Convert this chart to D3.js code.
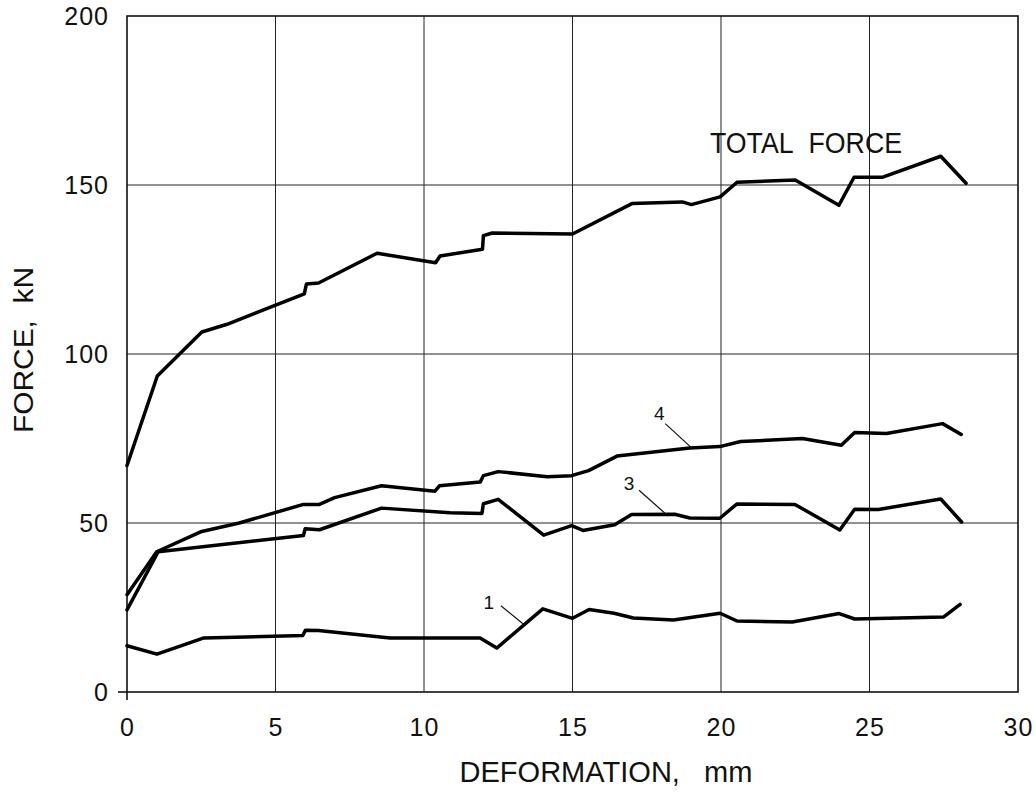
<!DOCTYPE html>
<html>
<head>
<meta charset="utf-8">
<script src="https://cdn.jsdelivr.net/npm/d3@7"></script>
<style>
  html, body { margin: 0; padding: 0; background: #fff; }
  svg { display: block; }
  text { font-family: "Liberation Sans", "DejaVu Sans", sans-serif; fill: #111; }
</style>
</head>
<body>
<svg id="chart" width="1035" height="794"></svg>
<script>
// Axis ticks
const xTicks = [0, 5, 10, 15, 20, 25, 30];
const yTicks = [0, 50, 100, 150, 200];

// Total force (kN) vs deformation (mm)
const totalX = [0, 1.02, 2.52, 3.37, 5.97, 6.04, 6.45, 8.42, 10.39, 10.54, 11.97, 12.0, 12.3, 15.0, 17.0, 18.7, 19.0, 19.97, 20.54, 22.5, 23.97, 24.48, 25.45, 27.4, 28.25];
const totalF = [67, 93.5, 106.5, 108.8, 117.8, 120.7, 121, 129.8, 127, 129, 131, 135, 135.8, 135.5, 144.5, 145, 144.2, 146.5, 150.8, 151.5, 144, 152.3, 152.3, 158.5, 150.5];

// Component 4
const c4X = [0, 1.0, 2.48, 3.78, 5.94, 6.48, 6.99, 8.57, 10.37, 10.52, 11.89, 12.0, 12.5, 14.15, 14.97, 15.54, 16.5, 18.95, 19.96, 20.66, 22.74, 24.05, 24.5, 25.57, 27.46, 28.09];
const c4F = [28.8, 41.5, 47.4, 50, 55.5, 55.5, 57.5, 61, 59.4, 61, 62.1, 64, 65.2, 63.7, 64, 65.5, 69.8, 72.2, 72.6, 74.1, 75, 73, 76.8, 76.5, 79.4, 76.2];

// Component 3
const c3X = [0, 1.05, 5.94, 6.0, 6.48, 8.57, 10.88, 11.95, 12.0, 12.5, 14.03, 14.97, 15.35, 16.42, 16.99, 18.44, 18.95, 19.96, 20.53, 22.49, 24.0, 24.5, 25.3, 27.4, 28.1];
const c3F = [24.3, 41.5, 46.3, 48.3, 48, 54.4, 53, 52.8, 55.7, 57, 46.4, 49.2, 47.8, 49.5, 52.5, 52.6, 51.5, 51.4, 55.6, 55.5, 47.9, 54.1, 54, 57.1, 50.3];

// Component 1
const c1X = [0, 1.01, 2.59, 5.92, 6.01, 6.45, 8.85, 10.88, 11.89, 12.45, 14.0, 15.0, 15.56, 16.4, 17.05, 18.4, 19.97, 20.54, 22.4, 23.98, 24.5, 27.5, 28.05];
const c1F = [13.7, 11.2, 16, 16.7, 18.3, 18.2, 16, 16, 16, 13, 24.6, 21.8, 24.4, 23.3, 21.9, 21.3, 23.3, 21, 20.7, 23.2, 21.6, 22.2, 25.9];

// Curve labels: text, point on the curve (data units), label centre offset and leader start offset (px)
const curveLabels = [
  { text: "4", x: 19.0, y: 72.3, dx: -32, dy: -34, lx: -26, ly: -24 },
  { text: "3", x: 18.15, y: 52.6, dx: -37, dy: -31, lx: -27, ly: -24 },
  { text: "1", x: 13.33, y: 20.2, dx: -34, dy: -21, lx: -22, ly: -18 }
];

const svg = d3.select("#chart");
const mLeft = 127, mRight = 1018, mTop = 16, mBottom = 692;

const x = d3.scaleLinear().domain([0, 30]).range([mLeft, mRight]);
const y = d3.scaleLinear().domain([0, 200]).range([mBottom, mTop]);

// Grid lines
const grid = svg.append("g").attr("stroke", "#222").attr("stroke-width", 1);
grid.selectAll("line.v").data(xTicks.slice(1, -1)).join("line")
  .attr("class", "v")
  .attr("x1", d => x(d)).attr("x2", d => x(d))
  .attr("y1", mTop).attr("y2", mBottom);
grid.selectAll("line.h").data(yTicks.slice(1, -1)).join("line")
  .attr("class", "h")
  .attr("x1", mLeft).attr("x2", mRight)
  .attr("y1", d => y(d)).attr("y2", d => y(d));

// Frame
svg.append("rect")
  .attr("x", mLeft).attr("y", mTop)
  .attr("width", mRight - mLeft).attr("height", mBottom - mTop)
  .attr("fill", "none").attr("stroke", "#111").attr("stroke-width", 1.6);

// Origin cross
svg.append("line").attr("x1", mLeft - 9).attr("x2", mLeft).attr("y1", y(0)).attr("y2", y(0))
  .attr("stroke", "#111").attr("stroke-width", 1.6);
svg.append("line").attr("x1", x(0)).attr("x2", x(0)).attr("y1", mBottom).attr("y2", mBottom + 8)
  .attr("stroke", "#111").attr("stroke-width", 1.6);

// Axes (labels only, lines come from the frame)
const xAxis = d3.axisBottom(x).tickValues(xTicks).tickSize(0).tickPadding(26).tickFormat(d3.format("d"));
const gx = svg.append("g").attr("transform", `translate(0,${mBottom})`).call(xAxis);
gx.select(".domain").remove();
gx.attr("font-family", null).attr("font-size", null);
gx.selectAll("text").attr("font-size", 25).attr("letter-spacing", 1);

const yAxis = d3.axisLeft(y).tickValues(yTicks).tickSize(0).tickPadding(18).tickFormat(d3.format("d"));
const gy = svg.append("g").attr("transform", `translate(${mLeft},0)`).call(yAxis);
gy.select(".domain").remove();
gy.attr("font-family", null).attr("font-size", null);
gy.selectAll("text").attr("font-size", 25).attr("letter-spacing", 1);

// Curves
const line = d3.line().x(d => x(d[0])).y(d => y(d[1]));
const series = [
  [totalX, totalF],
  [c4X, c4F],
  [c3X, c3F],
  [c1X, c1F]
];
svg.append("g").selectAll("path").data(series).join("path")
  .attr("d", s => line(d3.zip(s[0], s[1])))
  .attr("fill", "none").attr("stroke", "#000")
  .attr("stroke-width", 3.5).attr("stroke-linejoin", "round").attr("stroke-linecap", "round");

// Curve labels with leaders
curveLabels.forEach(l => {
  const px = x(l.x), py = y(l.y);
  svg.append("line")
    .attr("x1", px).attr("y1", py)
    .attr("x2", px + l.lx).attr("y2", py + l.ly)
    .attr("stroke", "#111").attr("stroke-width", 1.2);
  svg.append("text")
    .attr("x", px + l.dx).attr("y", py + l.dy)
    .attr("text-anchor", "middle").attr("dominant-baseline", "central")
    .attr("font-size", 19)
    .text(l.text);
});

svg.append("text")
  .attr("x", 710).attr("y", 153)
  .attr("font-size", 29).attr("textLength", 192).attr("lengthAdjust", "spacingAndGlyphs")
  .text("TOTAL\u00A0\u00A0FORCE");

// Axis titles
svg.append("text")
  .attr("x", 606).attr("y", 782)
  .attr("text-anchor", "middle").attr("font-size", 29)
  .attr("textLength", 293).attr("lengthAdjust", "spacingAndGlyphs")
  .text("DEFORMATION,\u00A0\u00A0\u00A0mm");

svg.append("text")
  .attr("transform", "translate(33,350) rotate(-90)")
  .attr("text-anchor", "middle").attr("font-size", 28)
  .attr("textLength", 166).attr("lengthAdjust", "spacingAndGlyphs")
  .text("FORCE,\u00A0\u00A0kN");
</script>
</body>
</html>
